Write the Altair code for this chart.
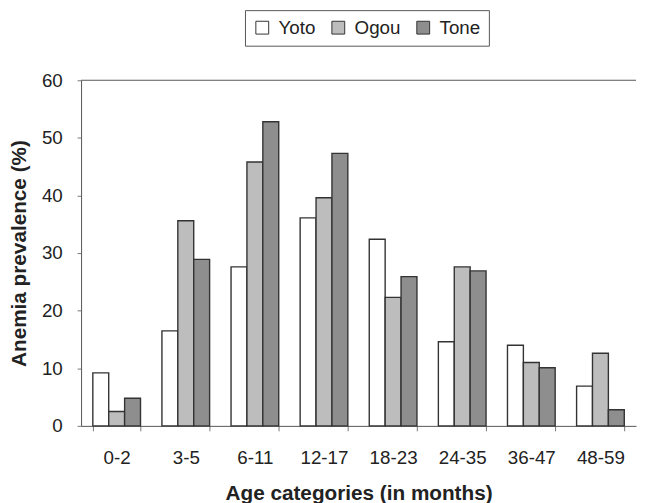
import altair as alt
import pandas as pd

categories = ["0-2", "3-5", "6-11", "12-17", "18-23", "24-35", "36-47", "48-59"]
series = ["Yoto", "Ogou", "Tone"]
yoto = [9.2, 16.5, 27.6, 36.1, 32.4, 14.6, 14.0, 6.9]
ogou = [2.5, 35.6, 45.8, 39.6, 22.3, 27.6, 11.0, 12.6]
tone = [4.8, 28.9, 52.8, 47.3, 25.9, 26.9, 10.1, 2.8]
colors = ["#ffffff", "#bdbdbd", "#8e8e8e"]

rows = []
for name, vals in zip(series, [yoto, ogou, tone]):
    for c, v in zip(categories, vals):
        rows.append({"Age": c, "Site": name, "Value": v})
df = pd.DataFrame(rows)

W = 562
H = 350
FONT = "Liberation Sans"

bars = alt.Chart(df).mark_bar(stroke="#333333", strokeWidth=1.4).encode(
    x=alt.X("Age:N", sort=categories,
            scale=alt.Scale(paddingInner=0.31, paddingOuter=0.17),
            axis=alt.Axis(title="Age categories (in months)", labelAngle=0,
                          tickBand="extent", tickSize=5, labelPadding=18,
                          titlePadding=16)),
    xOffset=alt.XOffset("Site:N", sort=series, scale=alt.Scale(paddingInner=0, paddingOuter=0)),
    y=alt.Y("Value:Q", scale=alt.Scale(domain=[0, 60]),
            axis=alt.Axis(title="Anemia prevalence (%)", values=[0, 10, 20, 30, 40, 50, 60],
                          grid=False, tickSize=4, labelPadding=15, titlePadding=12)),
    fill=alt.Fill("Site:N", sort=series,
                  scale=alt.Scale(domain=series, range=colors),
                  legend=alt.Legend(title=None, orient="none", direction="horizontal",
                                    legendX=166, legendY=-71, symbolType="square",
                                    symbolSize=169, symbolStrokeColor="#333333",
                                    symbolStrokeWidth=1, labelFontSize=19,
                                    labelFont=FONT, labelColor="#222222",
                                    columnPadding=13, labelOffset=7,
                                    strokeColor="#555555", padding=8,
                                    fillColor="white")),
)

top = alt.Chart(pd.DataFrame({"y": [60]})).mark_rule(color="#555555", strokeWidth=1).encode(
    y="y:Q", x=alt.value(0), x2=alt.value(W)
)

chart = alt.layer(bars, top).properties(
    width=W, height=H,
    autosize=alt.AutoSizeParams(type="none"),
    padding={"left": 74, "top": 70, "right": 2, "bottom": 80},
).configure_view(stroke=None).configure_axis(
    labelFont=FONT, titleFont=FONT, labelFontSize=19, titleFontSize=21,
    labelColor="#222222", titleColor="#222222", domainColor="#555555",
    tickColor="#777777", titleFontWeight="bold",
)

chart.save("out.html", embed_options={"renderer": "svg", "actions": False})
